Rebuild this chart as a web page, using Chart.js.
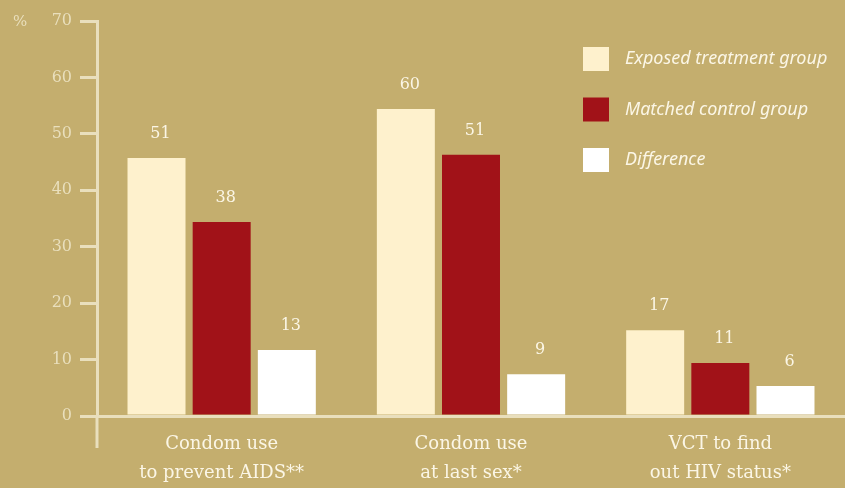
<!DOCTYPE html>
<html>
<head>
<meta charset="utf-8">
<script src="https://cdn.jsdelivr.net/npm/chart.js@4.4.1/dist/chart.umd.min.js"></script>
<style>
html, body { margin: 0; padding: 0; background: #c4ae6e; }
#wrap { width: 845px; height: 488px; }
</style>
</head>
<body>
<div id="wrap"><canvas id="chart"></canvas></div>
<script>
const categories = [["Condom use", "to prevent AIDS**"], ["Condom use", "at last sex*"], ["VCT to find", "out HIV status*"]];
const seriesNames = ["Exposed treatment group", "Matched control group", "Difference"];
// bar heights as drawn against the axis
const treatment = [45.7, 54.4, 15.2];
const control = [34.4, 46.3, 9.4];
const difference = [11.7, 7.4, 5.3];
// numbers printed above the bars
const treatmentLabels = [51, 60, 17];
const controlLabels = [38, 51, 11];
const differenceLabels = [13, 9, 6];
const yTicks = [0, 10, 20, 30, 40, 50, 60, 70];

const axisColor = "#e9dfbd";
const textColor = "#fbf6e6";
const serif = "'DejaVu Serif', 'Liberation Serif', serif";

const valueLabels = {
  id: "valueLabels",
  afterDatasetsDraw(chart) {
    const ctx = chart.ctx;
    ctx.save();
    ctx.font = "16px " + serif;
    ctx.fillStyle = textColor;
    ctx.textAlign = "center";
    ctx.textBaseline = "bottom";
    chart.data.datasets.forEach((ds, i) => {
      chart.getDatasetMeta(i).data.forEach((bar, j) => {
        ctx.fillText(String(ds.printed[j]), bar.x + 4, bar.y - 16);
      });
    });
    ctx.restore();
  }
};

const extras = {
  id: "extras",
  afterDraw(chart) {
    const ctx = chart.ctx;
    const a = chart.chartArea;
    ctx.save();
    // y axis runs down past the zero line
    ctx.strokeStyle = axisColor;
    ctx.lineWidth = 3;
    ctx.beginPath();
    ctx.moveTo(a.left, a.bottom);
    ctx.lineTo(a.left, a.bottom + 32);
    ctx.stroke();
    // percent sign
    ctx.font = "15px " + serif;
    ctx.fillStyle = axisColor;
    ctx.textAlign = "left";
    ctx.textBaseline = "middle";
    ctx.fillText("%", 13, a.top + 1);
    // legend
    ctx.font = "italic 18px 'Noto Sans', 'DejaVu Sans', sans-serif";
    chart.data.datasets.forEach((ds, i) => {
      const y = 47 + i * 50.5;
      ctx.fillStyle = ds.backgroundColor;
      ctx.fillRect(583, y, 26, 24);
      ctx.fillStyle = textColor;
      ctx.fillText(ds.label, 625, y + 12);
    });
    ctx.restore();
  }
};

new Chart(document.getElementById("chart"), {
  type: "bar",
  data: {
    labels: categories,
    datasets: [
      { label: seriesNames[0], data: treatment, printed: treatmentLabels, backgroundColor: "#fef1cd" },
      { label: seriesNames[1], data: control, printed: controlLabels, backgroundColor: "#a11218" },
      { label: seriesNames[2], data: difference, printed: differenceLabels, backgroundColor: "#ffffff" }
    ]
  },
  options: {
    responsive: true,
    maintainAspectRatio: false,
    animation: false,
    categoryPercentage: 0.784,
    barPercentage: 0.89,
    layout: { padding: { top: 21, right: 0, left: 0, bottom: 0 } },
    plugins: { legend: { display: false }, tooltip: { enabled: false } },
    scales: {
      x: {
        grid: { display: false, drawTicks: false },
        border: { color: axisColor, width: 3 },
        ticks: { color: textColor, font: { family: serif, size: 18, lineHeight: 1.65 }, padding: 13, maxRotation: 0 },
        afterFit(scale) { scale.height = 72; }
      },
      y: {
        min: 0,
        max: 70,
        afterBuildTicks(scale) { scale.ticks = yTicks.map(v => ({ value: v })); },
        grid: { drawOnChartArea: false, color: axisColor, lineWidth: 3, tickLength: 17 },
        border: { color: axisColor, width: 3 },
        ticks: { color: axisColor, font: { family: serif, size: 16 }, padding: 8 },
        afterFit(scale) { scale.width = 97; }
      }
    }
  },
  plugins: [valueLabels, extras]
});
</script>
</body>
</html>
